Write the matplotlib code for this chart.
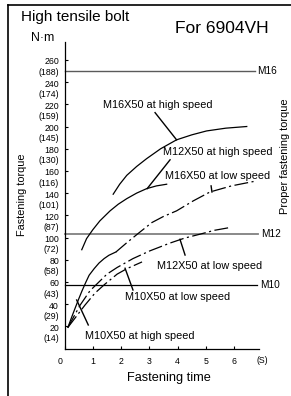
import matplotlib
matplotlib.use("Agg")
import matplotlib.pyplot as plt
from matplotlib.lines import Line2D
from matplotlib.transforms import ScaledTranslation

plt.rcParams['font.family'] = ['Liberation Sans', 'DejaVu Sans']
plt.rcParams['lines.scale_dashes'] = False

# ---- data ----
torque_ticks = [20, 40, 60, 80, 100, 120, 140, 160, 180, 200, 220, 240, 260]
torque_alt = [14, 29, 43, 58, 72, 87, 101, 116, 130, 145, 159, 174, 188]
time_ticks = [0, 1, 2, 3, 4, 5, 6]

proper_names = ["M16", "M12", "M10"]
proper_values = [250, 103, 57]
proper_ends = [6.72, 6.85, 6.8]
proper_colors = ["#5a5a5a", "#808080", "#000000"]
proper_widths = [1.0, 1.3, 0.9]

m16_high_t = [1.72, 1.95, 2.20, 2.55, 2.90, 3.40, 3.96, 4.50, 5.02, 5.70, 6.44]
m16_high_tq = [139, 148, 156, 164, 171, 180, 188, 192.5, 196, 198.5, 200]

m12_high_t = [0.61, 0.78, 1.00, 1.25, 1.61, 1.90, 2.20, 2.55, 2.90, 3.25, 3.61]
m12_high_tq = [89, 99, 107, 115, 124, 130, 135, 140, 144, 146.5, 148]

m10_high_t = [0.12, 0.25, 0.37, 0.50, 0.62, 0.75, 0.87, 1.05, 1.22, 1.40, 1.57, 1.82]
m10_high_tq = [19, 28, 36, 44.5, 52, 59.5, 66, 72, 77, 81, 84, 87]

m16_low_t = [1.82, 2.21, 2.67, 3.09, 3.50, 3.96, 4.55, 5.14, 5.90, 6.79]
m16_low_tq = [87, 95.5, 105, 113.5, 119, 124, 133, 141, 146.5, 151]

m12_low_t = [0.12, 0.55, 0.90, 1.50, 1.86, 2.42, 3.02, 3.73, 4.25, 4.79, 5.30, 5.85]
m12_low_tq = [19, 39, 52, 67, 73, 81, 88, 95, 99.5, 103, 106.5, 109]

m10_low_t = [0.12, 0.72, 1.08, 1.43, 1.86, 2.21, 2.74]
m10_low_tq = [19, 39, 50, 58, 67, 72, 78]

# label text, text position, leader (from, to)
labels = [
    ("M16X50 at high speed", (1.36, 219), (3.20, 212.5), (3.96, 188)),
    ("M12X50 at high speed", (3.49, 177), (3.73, 170), (2.92, 144)),
    ("M16X50 at low speed", (3.55, 155.5), (5.18, 146.5), (5.21, 141)),
    ("M12X50 at low speed", (3.26, 74.3), (4.26, 84.2), (4.08, 98.4)),
    ("M10X50 at low speed", (2.14, 46), (2.42, 52.7), (2.14, 72.3)),
    ("M10X50 at high speed", (0.72, 11.5), (0.84, 21.2), (0.43, 43.7)),
]

W, H = 291, 396
fig = plt.figure(figsize=(W / 100, H / 100), dpi=100)
fig.patch.set_facecolor("white")

ax = fig.add_axes([64.5 / W, 1 - 348.5 / H, (258.5 - 64.5) / W, (348.5 - 41.7) / H])
ax.set_xlim(0, 6.855)
ax.set_ylim(0, 276.4)
ax.set_facecolor("none")

for s in ["top", "right"]:
    ax.spines[s].set_visible(False)
for s in ["left", "bottom"]:
    ax.spines[s].set_linewidth(0.9)

ax.set_yticks(torque_ticks)
ax.set_yticklabels([f"{a}\n({b})" for a, b in zip(torque_ticks, torque_alt)],
                   fontsize=6.3, linespacing=1.15)
ax.set_xticks(time_ticks)
ax.set_xticklabels([str(t) for t in time_ticks], fontsize=6.3)
ax.tick_params(axis="both", direction="in", length=2.5, width=0.8)
ax.tick_params(axis="y", pad=4)
ax.tick_params(axis="x", pad=6)

down = ScaledTranslation(0, -4 / 72, fig.dpi_scale_trans)
for lab in ax.get_yticklabels():
    lab.set_transform(lab.get_transform() + down)
left = ScaledTranslation(-4.5 / 100, 0, fig.dpi_scale_trans)
x0lab = ax.get_xticklabels()[0]
x0lab.set_transform(x0lab.get_transform() + left)

# proper torque lines
for name, v, end, c, lw in zip(proper_names, proper_values, proper_ends,
                               proper_colors, proper_widths):
    ax.plot([0, end], [v, v], color=c, lw=lw, clip_on=False)
    ax.text(end + 0.1, v, name, fontsize=7.3, va="center", ha="left", clip_on=False)

chain = (0, (10, 2.5, 1.5, 2.5))
ax.plot(m16_high_t, m16_high_tq, color="black", lw=0.9, clip_on=False)
ax.plot(m12_high_t, m12_high_tq, color="black", lw=0.9, clip_on=False)
ax.plot(m10_high_t, m10_high_tq, color="black", lw=0.9, clip_on=False)
ax.plot(m16_low_t, m16_low_tq, color="black", lw=0.9, ls=chain, clip_on=False)
ax.plot(m12_low_t, m12_low_tq, color="black", lw=0.9, ls=chain, clip_on=False)
ax.plot(m10_low_t, m10_low_tq, color="black", lw=0.9, ls=chain, clip_on=False)

for text, pos, p0, p1 in labels:
    ax.text(pos[0], pos[1], text, fontsize=7.8, ha="left", va="center")
    ax.plot([p0[0], p1[0]], [p0[1], p1[1]], color="black", lw=1.0)

ax.text(6.98, -11, "(S)", fontsize=6.3, ha="center", va="center", clip_on=False)

# axis titles
fig.text(168.5 / W, 1 - 378 / H, "Fastening time", fontsize=9.2, ha="center", va="center")
fig.text(22 / W, 1 - 194.5 / H, "Fastening torque", fontsize=7.8, rotation=90,
         ha="center", va="center")
fig.text(285 / W, 1 - 156.5 / H, "Proper fastening torque", fontsize=7.9, rotation=90,
         ha="center", va="center")
fig.text(43 / W, 1 - 38 / H, "N·m", fontsize=8.8, ha="center", va="center")

fig.text(20.7 / W, 1 - 20.7 / H, "High tensile bolt", fontsize=11, ha="left", va="baseline")
fig.text(175 / W, 1 - 33.3 / H, "For 6904VH", fontsize=12.5, ha="left", va="baseline")

# frame
fig.add_artist(Line2D([8 / W, 8 / W], [1 - 5 / H, 0], transform=fig.transFigure,
                      color="black", lw=1.2))
fig.add_artist(Line2D([8 / W, 1], [1 - 5 / H, 1 - 5 / H], transform=fig.transFigure,
                      color="black", lw=1.2))

fig.savefig("out.png", dpi=100)
